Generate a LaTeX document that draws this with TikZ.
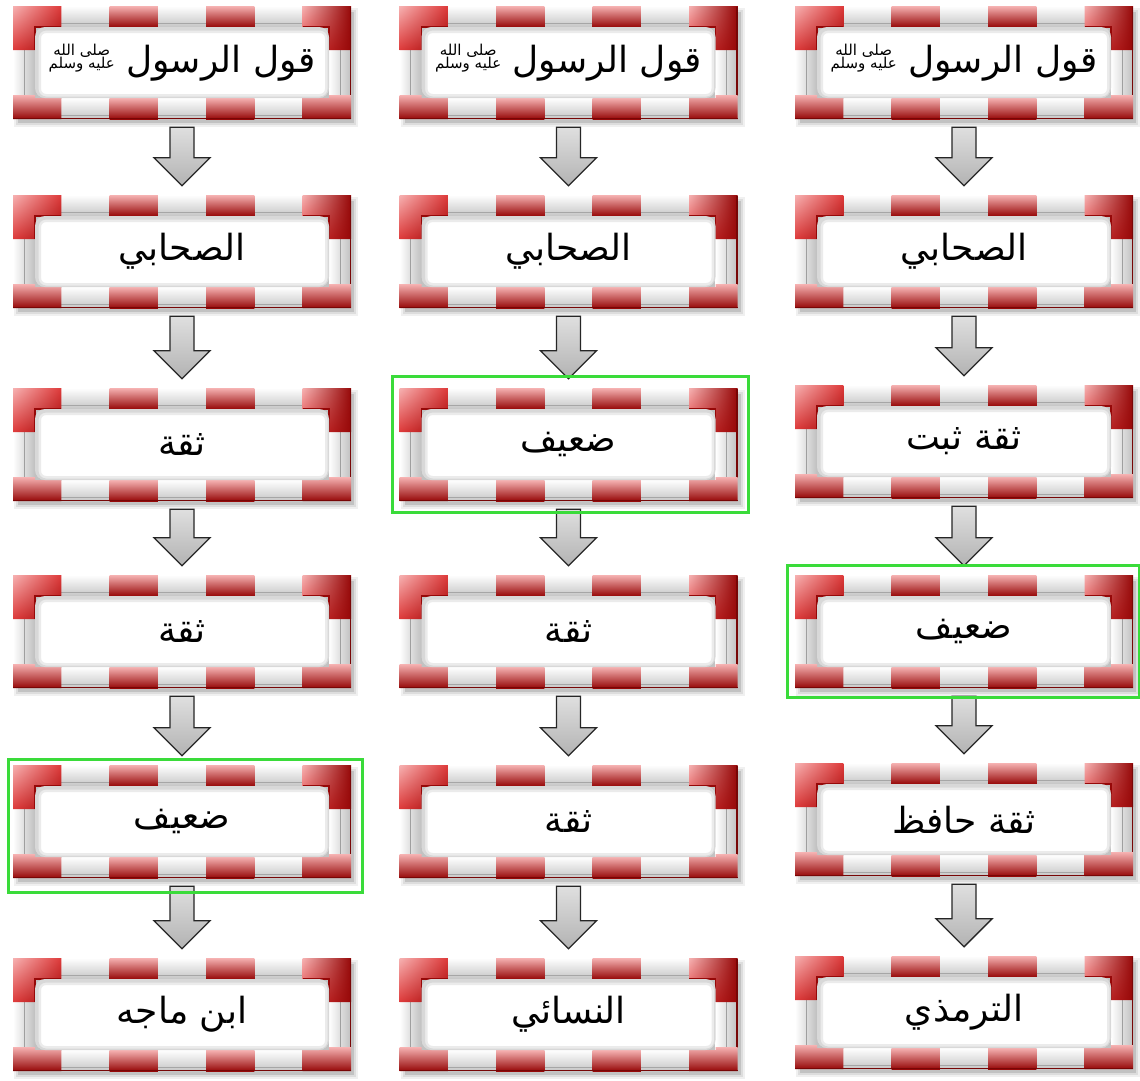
\documentclass[tikz,border=0pt]{standalone}
\usepackage{fontspec}
\usetikzlibrary{calc,shadings}
\TeXXeTstate=1
\newfontfamily\arabicfont[Script=Arabic]{DejaVu Sans}
\definecolor{rl}{HTML}{F6B2B2}
\definecolor{rm}{HTML}{DE3A3A}
\definecolor{rd}{HTML}{960808}
\definecolor{hl}{HTML}{3ADB3A}
\tikzset{
  boxtext/.style={minimum width=338pt, minimum height=113pt, inner sep=0pt,
    font=\arabicfont\fontsize{36}{42}\selectfont, text=black},
  redseg/.style={top color=rl, middle color=rm, bottom color=rd},
  whiteseg/.style={top color=white, bottom color=gray!45},
  sideseg/.style={left color=white, right color=gray!50},
  blockarrow/.style={draw=black!85, line width=1.3pt, top color=gray!25, bottom color=gray!60},
  highlight/.style={draw=hl, line width=3pt},
}
\newcommand{\salla}{\raisebox{4pt}{\fontsize{15}{15}\selectfont\shortstack{\beginR صلى الله\endR\\[-3pt]\beginR عليه وسلم\endR}}}
% name, cx, cy, text
\newcommand{\sbx}[4]{%
\begin{scope}[shift={({#2-169},{#3-56.5})}]
  \fill[black,opacity=.06] (1,2) rectangle (345,121);
  \fill[black,opacity=.08] (3,4) rectangle (343,119);
  \fill[black,opacity=.12] (5,6) rectangle (341,117);
  % sides
  \shade[sideseg] (0,40) rectangle (22,95);
  \shade[sideseg] (316,40) rectangle (338,95);
  \draw[gray!75, line width=1pt] (11,44) -- (11,90);
  \draw[gray!75, line width=1pt] (327,44) -- (327,90);
  \draw[rd!80!black, line width=1.2pt] (337.5,44) -- (337.5,90);
  % white segments
  \foreach \i in {1,3,5} {
    \shade[whiteseg] ({\i*48.2857},0) rectangle ({(\i+1)*48.2857},21);
    \draw[gray!70] ({\i*48.2857},17) -- ({(\i+1)*48.2857},17);
    \shade[whiteseg] ({\i*48.2857},92) rectangle ({(\i+1)*48.2857},113);
    \draw[gray!70] ({\i*48.2857},109) -- ({(\i+1)*48.2857},109);
  }
  % red segments
  \foreach \i in {2,4} {
    \shade[redseg] ({\i*48.2857},0) rectangle ({(\i+1)*48.2857},21);
    \shade[redseg] ({\i*48.2857},92) rectangle ({(\i+1)*48.2857},113);
  }
  % corners
  \shade[upper left=rl, upper right=rm, lower left=rm, lower right=rd]
    (0,0) -- (48.2857,0) -- (48.2857,21) -- (22,21) -- (22,44) -- (0,44) -- cycle;
  \shade[upper left=rl, upper right=rd, lower left=rm, lower right=rd]
    (338,0) -- (289.7143,0) -- (289.7143,21) -- (316,21) -- (316,44) -- (338,44) -- cycle;
  \shade[redseg] (0,89) -- (22,89) -- (22,92) -- (48.2857,92) -- (48.2857,113) -- (0,113) -- cycle;
  \shade[redseg] (338,89) -- (316,89) -- (316,92) -- (289.7143,92) -- (289.7143,113) -- (338,113) -- cycle;
  \draw[rd, line width=1.5pt] (48.2857,21) -- (22,21) -- (22,44);
  \draw[rd, line width=1.5pt] (289.7143,21) -- (316,21) -- (316,44);
  \draw[rd!80!black, line width=1.2pt] (337.5,1) -- (337.5,44);
  \draw[rd!80!black, line width=1.2pt] (0,112.5) -- (338,112.5);
  % inner area
  \fill[white, rounded corners=10pt] (22,21) rectangle (316,92);
  \begin{scope}
    \clip[rounded corners=10pt] (22,21) rectangle (316,92);
    \draw[black, opacity=.08, line width=10pt, rounded corners=10pt] (23,22) rectangle (317,93);
    \draw[black, opacity=.08, line width=5pt, rounded corners=10pt] (23,22) rectangle (317,93);
  \end{scope}
\end{scope}
\node[boxtext] (#1) at (#2,#3) {#4};
}
\newcommand{\darrow}[2]{%
  \path[blockarrow] let \p1=($(#1.south)+(0,8)$), \p2=($(#2.north)+(0,-9)$) in
    (\x1-12pt,\y1) -- (\x1+12pt,\y1) -- (\x1+12pt,\y2+28pt) -- (\x1+28pt,\y2+28pt)
    -- (\x1,\y2) -- (\x1-28pt,\y2+28pt) -- (\x1-12pt,\y2+28pt) -- cycle;
}
\begin{document}
\begin{tikzpicture}[x=1pt,y=-1pt]
\fill[white] (0,0) rectangle (1140,1080);
\useasboundingbox (0,0) rectangle (1140,1080);
% column 1
\sbx{a1}{182}{62.5}{\beginR قول الرسول \salla\endR}
\sbx{a2}{182}{251.5}{\beginR الصحابي\endR}
\sbx{a3}{182}{444.5}{\beginR ثقة\endR}
\sbx{a4}{182}{631.5}{\beginR ثقة\endR}
\sbx{a5}{182}{821.5}{\beginR ضعيف\endR}
\sbx{a6}{182}{1014.5}{\beginR ابن ماجه\endR}
% column 2
\sbx{b1}{568.5}{62.5}{\beginR قول الرسول \salla\endR}
\sbx{b2}{568.5}{251.5}{\beginR الصحابي\endR}
\sbx{b3}{568.5}{444.5}{\beginR ضعيف\endR}
\sbx{b4}{568.5}{631.5}{\beginR ثقة\endR}
\sbx{b5}{568.5}{821.5}{\beginR ثقة\endR}
\sbx{b6}{568.5}{1014.5}{\beginR النسائي\endR}
% column 3
\sbx{c1}{964}{62.5}{\beginR قول الرسول \salla\endR}
\sbx{c2}{964}{251.5}{\beginR الصحابي\endR}
\sbx{c3}{964}{441.5}{\beginR ثقة ثبت\endR}
\sbx{c4}{964}{631.5}{\beginR ضعيف\endR}
\sbx{c5}{964}{819.5}{\beginR ثقة حافظ\endR}
\sbx{c6}{964}{1012.5}{\beginR الترمذي\endR}
% arrows
\darrow{a1}{a2}\darrow{a2}{a3}\darrow{a3}{a4}\darrow{a4}{a5}\darrow{a5}{a6}
\darrow{b1}{b2}\darrow{b2}{b3}\darrow{b3}{b4}\darrow{b4}{b5}\darrow{b5}{b6}
\darrow{c1}{c2}\darrow{c2}{c3}\darrow{c3}{c4}\darrow{c4}{c5}\darrow{c5}{c6}
% highlights
\draw[highlight] ($(b3.north west)+(-7,-11)$) rectangle ($(b3.south east)+(11,11)$);
\draw[highlight] ($(c4.north west)+(-7,-9)$) rectangle ($(c4.south east)+(6,9)$);
\draw[highlight] ($(a5.north west)+(-4,-5)$) rectangle ($(a5.south east)+(11,14)$);
\end{tikzpicture}
\end{document}
